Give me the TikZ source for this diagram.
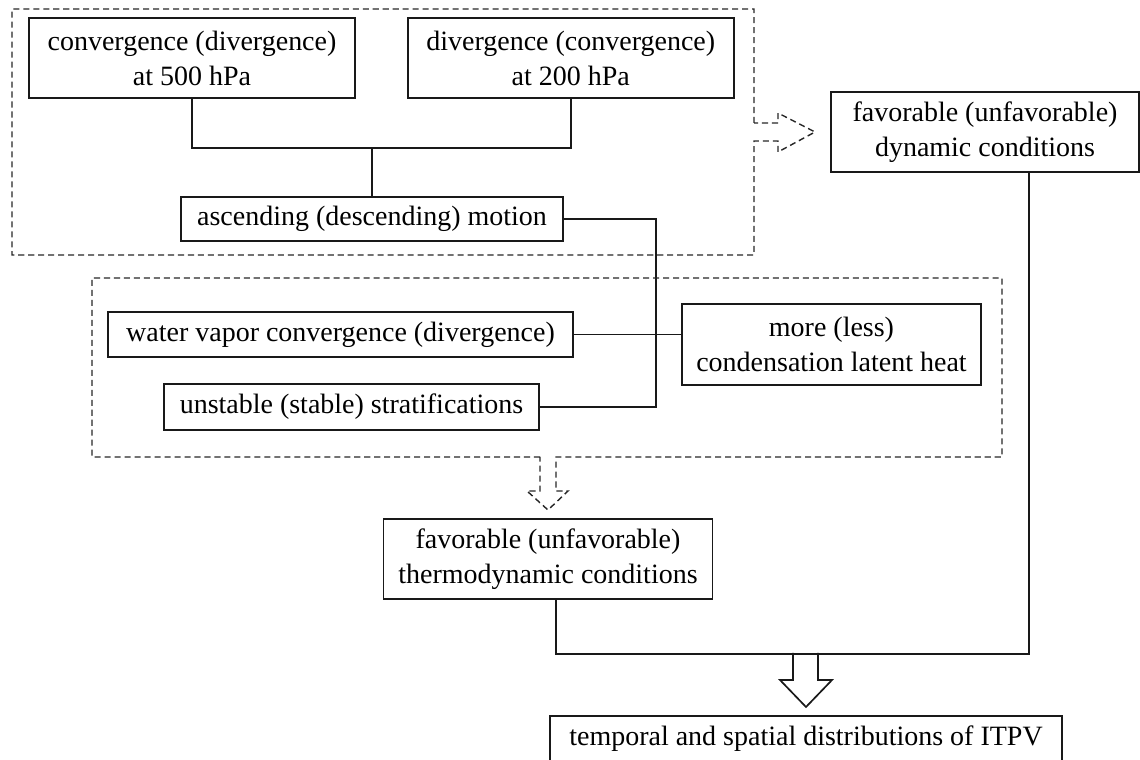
\documentclass[tikz,border=0pt]{standalone}
\usepackage{fontspec}
\setmainfont{Liberation Serif}
\usetikzlibrary{positioning}
\newcommand{\boxfont}{\fontsize{19.9pt}{24.9pt}\selectfont}

\begin{document}
\begin{tikzpicture}[x=0.025cm, y=-0.025cm,
    every node/.style={font=\boxfont},
    block/.style={draw=black!90, line width=1.2pt, inner sep=0pt, align=center},
    link/.style={draw=black!90, line width=1.2pt},
    group/.style={draw=black!85, line width=1pt, dash pattern=on 4.3pt off 2.8pt}]
  \useasboundingbox (0,0) rectangle (1140,760);
  % dynamic part
  \node[block, minimum width=8.15cm, minimum height=2cm] (conv500) at (192,58)
     {convergence (divergence)\\at 500 hPa};
  \node[block, minimum width=8.15cm, minimum height=2cm, right=1.275cm of conv500] (div200)
     {divergence (convergence)\\at 200 hPa};
  \node[block, minimum width=9.55cm, minimum height=1.1cm] (motion) at (372,219)
     {ascending (descending) motion};
  \node[block, minimum width=7.7cm, minimum height=2cm] (dyn) at (985,132)
     {favorable (unfavorable)\\dynamic conditions};
  % thermodynamic part
  \node[block, minimum width=11.625cm, minimum height=1.125cm] (vapor) at (340.5,334.5)
     {water vapor convergence (divergence)};
  \node[block, minimum width=7.475cm, minimum height=2.025cm] (heat) at (831.5,344.5)
     {more (less)\\condensation latent heat};
  \node[block, minimum width=9.375cm, minimum height=1.15cm] (strat) at (351.5,407)
     {unstable (stable) stratifications};
  \coordinate (tipT) at (548,510);
  \node[block, minimum width=8.225cm, minimum height=2cm, below=0.2cm of tipT] (thermo)
     {favorable (unfavorable)\\thermodynamic conditions};
  \coordinate (tipI) at (806,707);
  \node[block, minimum width=12.8cm, minimum height=1.15cm, below=0.2cm of tipI] (itpv)
     {temporal and spatial distributions of ITPV};

  % connectors
  \coordinate (join) at (372,148);
  \draw[link] (conv500.south) |- (join) -| (div200.south);
  \draw[link] (join) -- (motion.north);
  \draw[link] (motion.east) -- ++(92,0) |- (strat.east);
  \draw[link] (vapor.east) -- (vapor.east -| heat.west);
  \draw[link] ([xshift=1.1cm]dyn.south) -- ++(0,481) -| ([xshift=0.2cm]thermo.south);
  \draw[link] (793,653) -- (793,680) -- (780,680) -- (tipI) -- (832,680) -- (818,680) -- (818,653);

  % dashed groups with their arrows
  \draw[group] (754,123) -- (754,9) -- (12,9) -- (12,255) -- (754,255) -- (754,141)
     -- (778,141) -- (778,152) -- (815,132) -- (778,113) -- (778,123) -- cycle;
  \draw[group] (540,457) -- (92,457) -- (92,278) -- (1002,278) -- (1002,457) -- (556,457)
     -- (556,491) -- (568,491) -- (tipT) -- (527,491) -- (540,491) -- cycle;
\end{tikzpicture}
\end{document}
